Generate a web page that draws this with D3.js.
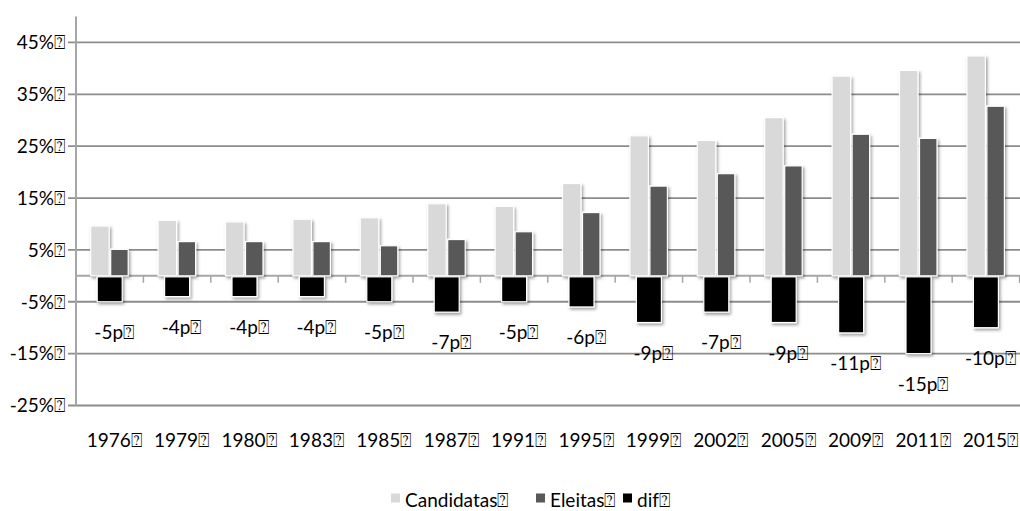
<!DOCTYPE html>
<html>
<head>
<meta charset="utf-8">
<script src="https://cdn.jsdelivr.net/npm/d3@7"></script>
<style>
  body { margin: 0; background: #fff; }
  svg text { font-family: Lato, "Open Sans", "DejaVu Sans", sans-serif; fill: #000; }
</style>
</head>
<body>
<svg id="chart" width="1020" height="511"></svg>
<script>
// Election years
const years = ["1976", "1979", "1980", "1983", "1985", "1987", "1991", "1995", "1999", "2002", "2005", "2009", "2011", "2015"];
// Share of women among candidates (%)
const candidatas = [9.6, 10.7, 10.4, 10.9, 11.2, 13.9, 13.4, 17.8, 27.0, 26.1, 30.5, 38.5, 39.6, 42.4];
// Share of women among those elected (%)
const eleitas = [5.1, 6.6, 6.6, 6.6, 5.8, 7.0, 8.5, 12.2, 17.3, 19.7, 21.2, 27.3, 26.5, 32.7];
// Gap in percentage points, as labelled
const dif = [-5, -4, -4, -4, -5, -7, -5, -6, -9, -7, -9, -11, -15, -10];
// Value axis ticks
const yTicks = [-25, -15, -5, 5, 15, 25, 35, 45];
const seriesNames = ["Candidatas", "Eleitas", "dif"];
const seriesColors = ["#d9d9d9", "#595959", "#000000"];
// Trailing mark that follows every label
const MARK = "\u2370";

const svg = d3.select("#chart");
const FONT = 19;

const x = d3.scaleBand().domain(years).range([76, 1019.6]).padding(0);
const y = d3.scaleLinear().domain([-25, 50]).range([405.5, 16.5]);
const cx = d => x(d) + x.bandwidth() / 2;

// soft drop shadow under the bars
const defs = svg.append("defs");
const f = defs.append("filter").attr("id", "shadow")
  .attr("x", "-30%").attr("y", "-10%").attr("width", "160%").attr("height", "130%");
f.append("feDropShadow").attr("dx", 1.5).attr("dy", 2).attr("stdDeviation", 1.6)
  .attr("flood-color", "#000").attr("flood-opacity", 0.38);

const gridColor = "#8c8c8c";

// horizontal gridlines with their outward ticks
svg.append("g").selectAll("line").data(yTicks).join("line")
  .attr("x1", 68).attr("x2", 1020)
  .attr("y1", d => y(d)).attr("y2", d => y(d))
  .attr("stroke", gridColor).attr("stroke-width", 1.8);

// y-axis labels
svg.append("g").selectAll("text").data(yTicks).join("text")
  .attr("x", 65).attr("y", d => y(d)).attr("dy", "0.36em")
  .attr("text-anchor", "end").attr("font-size", FONT)
  .text(d => d + "%" + MARK);

// vertical axis line
svg.append("line")
  .attr("x1", 76).attr("x2", 76).attr("y1", y(50)).attr("y2", y(-25))
  .attr("stroke", "#a6a6a6").attr("stroke-width", 2);

// category axis on zero with ticks between categories
const zero = y(0);
svg.append("line").attr("x1", 76).attr("x2", 1020).attr("y1", zero).attr("y2", zero)
  .attr("stroke", "#a6a6a6").attr("stroke-width", 2);
svg.append("g").selectAll("line").data(years).join("line")
  .attr("x1", d => x(d) + x.bandwidth())
  .attr("x2", d => x(d) + x.bandwidth())
  .attr("y1", zero).attr("y2", zero + 7)
  .attr("stroke", "#a6a6a6").attr("stroke-width", 1.5);

// paired bars
const barW = 18.5;
const bars = svg.append("g").attr("filter", "url(#shadow)");
bars.selectAll("rect.cand").data(years).join("rect").attr("class", "cand")
  .attr("x", d => cx(d) - barW - 0.5).attr("width", barW)
  .attr("y", (d, i) => y(candidatas[i])).attr("height", (d, i) => zero - y(candidatas[i]))
  .attr("fill", seriesColors[0]).attr("stroke", "#fff").attr("stroke-width", 1.2);
bars.selectAll("rect.ele").data(years).join("rect").attr("class", "ele")
  .attr("x", d => cx(d) + 1).attr("width", barW - 1)
  .attr("y", (d, i) => y(eleitas[i])).attr("height", (d, i) => zero - y(eleitas[i]))
  .attr("fill", seriesColors[1]).attr("stroke", "#fff").attr("stroke-width", 1.2);

// gap bars below zero
const difW = 25;
bars.selectAll("rect.dif").data(years).join("rect").attr("class", "dif")
  .attr("x", d => cx(d) - difW / 2).attr("width", difW)
  .attr("y", zero + 1).attr("height", (d, i) => y(dif[i]) - zero - 1)
  .attr("fill", seriesColors[2]).attr("stroke", "#fff").attr("stroke-width", 1.2);

// gap labels
svg.append("g").selectAll("text").data(years).join("text")
  .attr("x", d => cx(d) + 4.5).attr("y", (d, i) => y(dif[i]) + 37)
  .attr("text-anchor", "middle").attr("font-size", FONT)
  .text((d, i) => dif[i] + "p" + MARK);

// category labels
svg.append("g").selectAll("text").data(years).join("text")
  .attr("x", d => cx(d) + 4.5).attr("y", 446.5)
  .attr("text-anchor", "middle").attr("font-size", FONT)
  .text(d => d + MARK);

// legend
const legendX = [391, 536, 623];
const leg = svg.append("g");
seriesNames.forEach((name, i) => {
  leg.append("rect").attr("x", legendX[i]).attr("y", 493.5).attr("width", 9).attr("height", 9)
    .attr("fill", seriesColors[i]);
  leg.append("text").attr("x", legendX[i] + 14).attr("y", 506.5)
    .attr("font-size", FONT).text(name + MARK);
});
</script>
</body>
</html>
